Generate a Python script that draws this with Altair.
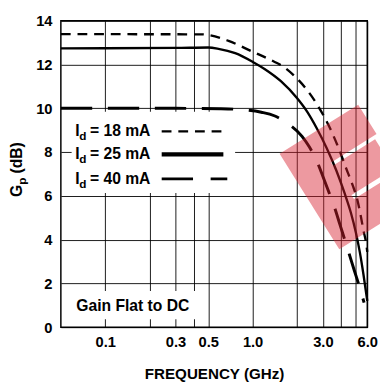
import altair as alt
import pandas as pd

# ---- data ----
f18 = [0.05, 0.45, 0.687, 0.983, 1.404, 1.587, 1.907, 2.327, 2.795, 3.26, 3.74, 4.42, 4.78, 5.16, 5.40, 5.65, 5.92, 6.0]
g18 = [13.39, 13.38, 13.08, 12.61, 12.13, 11.94, 11.5, 10.86, 10.08, 9.26, 8.36, 7.07, 6.48, 5.77, 5.14, 4.43, 3.76, 3.44]

f25 = [0.05, 0.3, 0.5, 0.587, 0.762, 1.003, 1.205, 1.556, 2.006, 2.338, 2.724, 3.174, 3.70, 4.21, 4.65, 5.02, 5.34, 5.65, 6.0]
g25 = [12.74, 12.76, 12.78, 12.72, 12.52, 12.12, 11.80, 11.24, 10.46, 9.86, 9.09, 8.20, 7.16, 6.12, 5.22, 4.33, 3.43, 2.42, 1.2]

f40 = [0.05, 0.3, 0.596, 0.797, 1.146, 1.404, 1.722, 2.165, 2.43, 2.724, 3.018, 3.31, 3.61, 3.91, 4.31, 4.90, 5.29, 5.71]
g40 = [10.0, 10.0, 9.98, 9.95, 9.82, 9.66, 9.32, 8.72, 8.23, 7.60, 6.84, 6.13, 5.44, 4.70, 3.80, 2.59, 1.88, 1.12]

grid_x = [0.1, 0.2, 0.3, 0.4, 0.5, 1, 2, 3, 4, 5, 6]
label_x = [0.1, 0.3, 0.5, 1, 3, 6]
grid_y = [0, 2, 4, 6, 8, 10, 12, 14]

legend_labels = ["= 18 mA", "= 25 mA", "= 40 mA"]
note = "Gain Flat to DC"
x_title = "FREQUENCY (GHz)"

FONT = "Liberation Sans"

xscale = alt.Scale(type="log", domain=[0.05, 6.0], nice=False)
yscale = alt.Scale(domain=[0, 14], nice=False, zero=False)

lab_expr = "(" + " || ".join("abs(datum.value - %s) < 1e-9" % v for v in label_x) + \
    ") ? format(datum.value, '.1f') : ''"

xaxis = alt.Axis(values=grid_x, labelExpr=lab_expr, title=x_title, labelOverlap=False,
                 labelFlush=False, labelAlign="center", labelPadding=8, titlePadding=17)
yaxis = alt.Axis(values=grid_y, title=None, labelPadding=9)


def curve(f, g, dash, width):
    df = pd.DataFrame({"f": f, "g": g})
    kw = dict(color="black", strokeWidth=width, interpolate="monotone")
    if dash:
        kw["strokeDash"] = dash
    return alt.Chart(df).mark_line(**kw).encode(
        x=alt.X("f:Q", scale=xscale, axis=xaxis),
        y=alt.Y("g:Q", scale=yscale, axis=yaxis),
    )


one = pd.DataFrame({"a": [0]})


def txt(t, x, y, size=16, align="left", baseline="middle", angle=0, **extra):
    return alt.Chart(one).mark_text(text=t, font=FONT, fontWeight="bold", fontSize=size,
                                    align=align, baseline=baseline, angle=angle,
                                    color="black", **extra).encode(
        x=alt.value(x), y=alt.value(y))


def box(x1, x2, y1, y2):
    return alt.Chart(one).mark_rect(color="white").encode(
        x=alt.value(x1), x2=alt.value(x2), y=alt.value(y1), y2=alt.value(y2))


def seg(x1, x2, y, width, dash=None):
    kw = dict(color="black", strokeWidth=width)
    if dash:
        kw["strokeDash"] = dash
    return alt.Chart(one).mark_rule(**kw).encode(
        x=alt.value(x1), x2=alt.value(x2), y=alt.value(y))


layers = [
    box(11, 178, 93, 176),
    box(11, 143, 276, 305),
    curve(f18, g18, [10, 7], 2.4),
    curve(f25, g25, None, 2.4),
    curve(f40, g40, [32, 16], 3),
]

# legend
rows = [113, 136.5, 161.5]
for lab, yy in zip(legend_labels, rows):
    layers.append(txt("I", 14.7, yy))
    layers.append(txt("d", 18.9, yy + 5, size=12))
    layers.append(txt(lab, 29.7, yy))
layers.append(seg(103, 170, rows[0], 2.4, [10, 7]))
layers.append(seg(103, 166, rows[1], 4.5))
layers.append(seg(103, 170, rows[2], 3, [32, 18]))

# note
layers.append(txt(note, 73.5, 291, size=16, align="center"))

# y title: G_p (dB)
layers.append(txt("G", -44.5, 180, angle=270))
layers.append(txt("p", -39.5, 167.5, size=12, angle=270))
layers.append(txt("(dB)", -44.5, 156, angle=270))

# watermark
layers.append(alt.Chart(one).mark_text(text="E", font=FONT, fontWeight="bold", fontSize=138,
                                       align="left", baseline="alphabetic", angle=328,
                                       color="#d8202e", stroke="#d8202e", strokeWidth=20,
                                       strokeJoin="miter", opacity=0.45).encode(
    x=alt.value(279.7), y=alt.value(224.5)))

chart = alt.layer(*layers).properties(
    width=313, height=313,
    autosize=alt.AutoSizeParams(type="none"),
    padding={"left": 54, "top": 9, "right": 13, "bottom": 55},
).configure_view(stroke="black", strokeWidth=1.5).configure_axis(
    labelFont=FONT, labelFontWeight="bold", labelFontSize=15, labelColor="black",
    titleFont=FONT, titleFontWeight="bold", titleFontSize=15.5, titleColor="black",
    gridColor="black", gridOpacity=1, gridWidth=0.9, domain=False, ticks=False,
)

chart.save("out.html", embed_options={"renderer": "svg", "actions": False})
